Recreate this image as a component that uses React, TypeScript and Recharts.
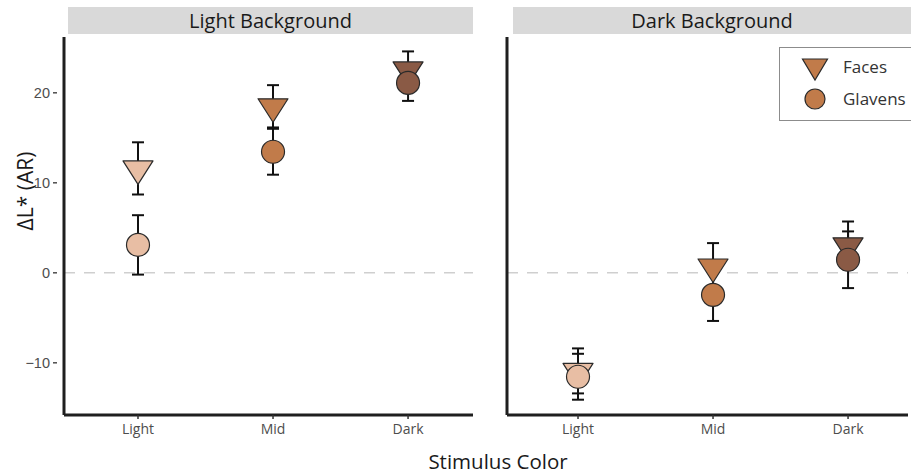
import React from 'react';
import { ScatterChart, Scatter, XAxis, YAxis, ErrorBar, ReferenceLine } from 'recharts';

const categories = ['Light', 'Mid', 'Dark'];
const panelTitles = ['Light Background', 'Dark Background'];
const seriesNames = ['Faces', 'Glavens'];
const stimulusColors = ['#E8BEA4', '#C17B4A', '#8A5A45'];
const legendColor = '#C17B4A';

const lightBgFaces = [11.6, 18.5, 22.6];
const lightBgFacesErr = [2.9, 2.35, 2.0];
const lightBgGlavens = [3.1, 13.45, 21.1];
const lightBgGlavensErr = [3.3, 2.55, 2.0];

const darkBgFaces = [-10.9, 0.7, 3.05];
const darkBgFacesErr = [2.5, 2.6, 2.65];
const darkBgGlavens = [-11.55, -2.45, 1.45];
const darkBgGlavensErr = [2.55, 2.9, 3.15];

const yTicks = [-10, 0, 10, 20];
const yDomain = [-15.8, 26.2];
const xTicks = [1, 2, 3];

const TITLE_FONT = '"Open Sans", "Noto Sans", sans-serif';
const TICK_FONT = '"Liberation Sans", Arial, sans-serif';

function rows(vals: number[], errs: number[]) {
  return categories.map((c, i) => ({ x: i + 1, cat: c, y: vals[i], err: errs[i], color: stimulusColors[i] }));
}

const Triangle = (props: any) => {
  const { cx, cy, payload } = props;
  if (cx == null || cy == null) return <g />;
  return (
    <path
      d={`M${cx - 15},${cy - 7.5} L${cx + 15},${cy - 7.5} L${cx},${cy + 16} Z`}
      fill={payload.color}
      stroke="#2a2a2a"
      strokeWidth={1.2}
      strokeLinejoin="round"
    />
  );
};

const Circle = (props: any) => {
  const { cx, cy, payload } = props;
  if (cx == null || cy == null) return <g />;
  return <circle cx={cx} cy={cy} r={11.5} fill={payload.color} stroke="#2a2a2a" strokeWidth={1.2} />;
};

const Empty = () => <g />;

const YTick = (props: any) => {
  const { x, y, payload } = props;
  return (
    <g>
      <line x1={x - 11} x2={x - 7} y1={y} y2={y} stroke="#4d4d4d" strokeWidth={1.5} />
      <text x={x - 14} y={y} dy="0.35em" textAnchor="end" fontSize={14.5} fill="#4d4d4d" fontFamily={TICK_FONT}>
        {payload.value < 0 ? '\u2212' + Math.abs(payload.value) : payload.value}
      </text>
    </g>
  );
};

function Panel(props: {
  faces: number[]; facesErr: number[]; glavens: number[]; glavensErr: number[];
  xDomain: number[]; width: number; marginRight: number; showYTicks: boolean;
}) {
  const facesRows = rows(props.faces, props.facesErr);
  const glavensRows = rows(props.glavens, props.glavensErr);
  return (
    <ScatterChart
      width={props.width}
      height={474}
      margin={{ top: 37, right: props.marginRight, bottom: 29, left: 0 }}
    >
      <XAxis
        type="number"
        dataKey="x"
        domain={props.xDomain}
        ticks={xTicks}
        interval={0}
        allowDataOverflow
        height={30}
        tickFormatter={(v: number) => categories[v - 1]}
        tickSize={4}
        tickMargin={5}
        tick={{ fill: '#4d4d4d', fontSize: 14, fontFamily: TITLE_FONT }}
        tickLine={{ stroke: '#333', strokeWidth: 1.5 }}
        axisLine={{ stroke: '#1f1f1f', strokeWidth: 3 }}
      />
      <YAxis
        type="number"
        dataKey="y"
        domain={yDomain}
        ticks={yTicks}
        interval={0}
        allowDataOverflow
        width={64}
        tickSize={0}
        tickMargin={0}
        tickLine={false}
        tick={props.showYTicks ? <YTick /> : false}
        axisLine={{ stroke: '#1f1f1f', strokeWidth: 3 }}
      />
      <ReferenceLine y={0} stroke="#cfcfcf" strokeWidth={1.5} strokeDasharray="11 9" />
      <Scatter name="facesErr" data={facesRows} shape={Empty} isAnimationActive={false}>
        <ErrorBar dataKey="err" direction="y" width={6} stroke="#111" strokeWidth={2} />
      </Scatter>
      <Scatter name="glavensErr" data={glavensRows} shape={Empty} isAnimationActive={false}>
        <ErrorBar dataKey="err" direction="y" width={6} stroke="#111" strokeWidth={2} />
      </Scatter>
      <Scatter name={seriesNames[0]} data={facesRows} shape={Triangle} isAnimationActive={false} />
      <Scatter name={seriesNames[1]} data={glavensRows} shape={Circle} isAnimationActive={false} />
    </ScatterChart>
  );
}

const stripStyle: React.CSSProperties = {
  position: 'absolute',
  top: 7,
  height: 27,
  background: '#d9d9d9',
  color: '#1a1a1a',
  fontFamily: TITLE_FONT,
  fontSize: 20,
  lineHeight: '27px',
  textAlign: 'center',
};

export default function App() {
  return (
    <div
      style={{
        position: 'fixed',
        left: 0,
        top: 0,
        width: 911,
        height: 474,
        overflow: 'hidden',
        background: '#fff',
      }}
    >
      <div style={{ ...stripStyle, left: 68, width: 405 }}>{panelTitles[0]}</div>
      <div style={{ ...stripStyle, left: 513, width: 398 }}>{panelTitles[1]}</div>

      <div style={{ position: 'absolute', left: 0, top: 0 }}>
        <Panel
          faces={lightBgFaces}
          facesErr={lightBgFacesErr}
          glavens={lightBgGlavens}
          glavensErr={lightBgGlavensErr}
          xDomain={[0.452, 3.481]}
          width={480}
          marginRight={7}
          showYTicks
        />
      </div>
      <div style={{ position: 'absolute', left: 443, top: 0 }}>
        <Panel
          faces={darkBgFaces}
          facesErr={darkBgFacesErr}
          glavens={darkBgGlavens}
          glavensErr={darkBgGlavensErr}
          xDomain={[0.474, 3.444]}
          width={468}
          marginRight={3}
          showYTicks={false}
        />
      </div>

      <div
        style={{
          position: 'absolute',
          left: 25,
          top: 191,
          transform: 'translate(-50%, -50%) rotate(-90deg)',
          fontFamily: TITLE_FONT,
          fontSize: 21,
          color: '#1a1a1a',
          whiteSpace: 'nowrap',
        }}
      >
        ΔL* (AR)
      </div>

      <div
        style={{
          position: 'absolute',
          left: 498,
          top: 461,
          transform: 'translate(-50%, -50%)',
          fontFamily: TITLE_FONT,
          fontSize: 20.5,
          color: '#1a1a1a',
          whiteSpace: 'nowrap',
        }}
      >
        Stimulus Color
      </div>

      <div
        style={{
          position: 'absolute',
          left: 779,
          top: 47,
          width: 140,
          height: 74,
          border: '1px solid #8c8c8c',
          boxSizing: 'border-box',
          background: '#fff',
        }}
      >
        <svg width={140} height={74} style={{ position: 'absolute', left: -1, top: -1 }}>
          <path d="M23.5,12 L48.5,12 L36,33 Z" fill={legendColor} stroke="#2a2a2a" strokeWidth={1.2} />
          <circle cx={36} cy={52} r={10} fill={legendColor} stroke="#2a2a2a" strokeWidth={1.2} />
          <text x={64} y={20} dy="0.35em" fontSize={17} fill="#333" fontFamily={TITLE_FONT}>{seriesNames[0]}</text>
          <text x={64} y={52} dy="0.35em" fontSize={17} fill="#333" fontFamily={TITLE_FONT}>{seriesNames[1]}</text>
        </svg>
      </div>
    </div>
  );
}
